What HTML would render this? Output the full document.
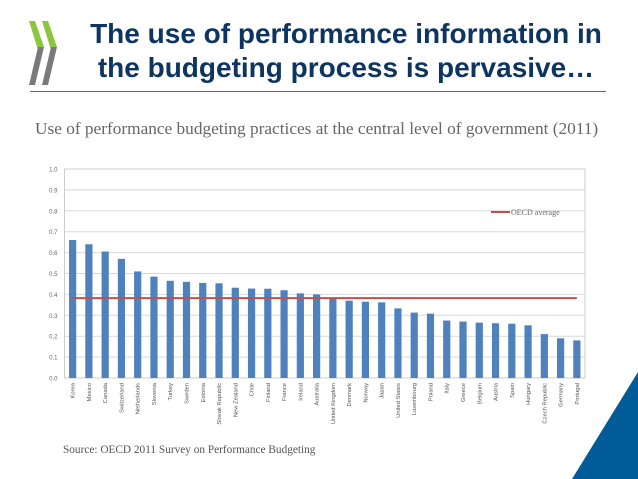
<!DOCTYPE html>
<html><head><meta charset="utf-8"><style>
body{margin:0;width:638px;height:479px;background:#fff;overflow:hidden;position:relative;font-family:"Liberation Sans",sans-serif}
#title{position:absolute;left:66px;width:560px;top:17px;text-align:center;font-weight:bold;font-size:28px;line-height:34px;color:#0e3560}
#rule{position:absolute;left:30px;top:91px;width:576px;height:1px;background:#666}
#sub{position:absolute;left:35px;top:119px;font-family:"Liberation Serif",serif;font-size:17.3px;color:#666;white-space:nowrap}
#src{position:absolute;left:63px;top:444px;font-family:"Liberation Serif",serif;font-size:11.3px;color:#555}
svg{position:absolute;left:0;top:0}
</style></head><body>
<svg width="638" height="479">
<g transform="translate(-5,0)">
<polygon points="34,21 40,21 49,47 43,50" fill="#8cc63f"/>
<polygon points="43,47 49,47 40,85 34,85" fill="#7a7a7a"/>
<polygon points="47,21 53,21 62,47 56,50" fill="#8cc63f"/>
<polygon points="56,47 62,47 53,85 47,85" fill="#7a7a7a"/>
</g>
<polygon points="572,479 638,372 638,479" fill="#005b96"/>
</svg>
<div id="title">The use of performance information in<br>the budgeting process is pervasive…</div>
<div id="rule"></div>
<div id="sub">Use of performance budgeting practices at the central level of government (2011)</div>
<div id="src">Source: OECD 2011 Survey on Performance Budgeting</div>
<svg id="chart" width="638" height="479"></svg>
<script>
const categories=["Korea","Mexico","Canada","Switzerland","Netherlands","Slovenia","Turkey","Sweden","Estonia","Slovak Republic","New Zealand","Chile","Finland","France","Ireland","Australia","United Kingdom","Denmark","Norway","Japan","United States","Luxembourg","Poland","Italy","Greece","Belgium","Austria","Spain","Hungary","Czech Republic","Germany","Portugal"];
const values=[0.66,0.64,0.605,0.57,0.51,0.485,0.465,0.46,0.455,0.453,0.432,0.428,0.427,0.42,0.405,0.4,0.378,0.37,0.365,0.362,0.333,0.313,0.308,0.275,0.27,0.265,0.262,0.26,0.252,0.21,0.19,0.18];
const oecdAverage=0.382;
const yTicks=["0.0","0.1","0.2","0.3","0.4","0.5","0.6","0.7","0.8","0.9","1.0"];
const NS="http://www.w3.org/2000/svg";
const svg=document.getElementById('chart');
const L=64.5,R=585,T=169,B=378;
const band=(R-L)/categories.length;
const y=v=>B-(B-T)*v;
const x=i=>L+band*(i+0.5);
function mk(t,a){const e=document.createElementNS(NS,t);for(const k in a)e.setAttribute(k,a[k]);svg.appendChild(e);return e;}
yTicks.forEach(t=>{const v=parseFloat(t);
const g=mk('line',{x1:L,x2:R,y1:y(v),y2:y(v),stroke:v===0?'#999':'#d9d9d9','stroke-width':1});


const tx=mk('text',{x:L-7,y:y(v)+2.5,'text-anchor':'end','font-size':6,fill:'#666','font-family':'Liberation Sans, sans-serif'});
tx.textContent=t;

});
const fr=mk('rect',{x:L,y:T,width:R-L,height:B-T,fill:'none',stroke:'#ccc'});


categories.forEach((c,i)=>{
const b=mk('rect',{x:x(i)-3.6,y:y(values[i]),width:7.2,height:B-y(values[i]),fill:'#4f81bd'});


const t=mk('text',{x:0,y:0,'text-anchor':'end','font-size':5.8,fill:'#555','font-family':'Liberation Sans, sans-serif',transform:`translate(${x(i)+2},${B+5}) rotate(-90)`});
t.textContent=c;

});
const av=mk('line',{x1:x(0),x2:x(categories.length-1),y1:y(oecdAverage),y2:y(oecdAverage),stroke:'#c0504d','stroke-width':2});


const lg=mk('line',{x1:491,x2:510,y1:212,y2:212,stroke:'#c0504d','stroke-width':2});


const lt=mk('text',{x:511,y:215,'font-size':8,fill:'#666','font-family':'Liberation Serif, serif'});
lt.textContent='OECD average';


</script>
</body></html>
